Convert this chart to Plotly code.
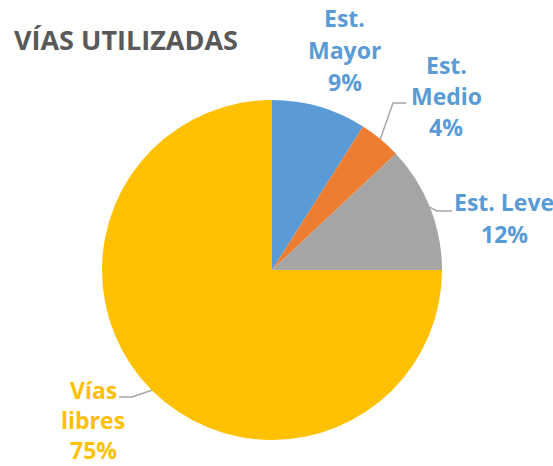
import math
import plotly.graph_objects as go

# Road usage shares (percent)
categories = ["Est. Mayor", "Est. Medio", "Est. Leve", "Vías libres"]
values = [9, 4, 12, 75]
label_lines = [["Est.", "Mayor"], ["Est.", "Medio"], ["Est. Leve"], ["Vías", "libres"]]

colors = ["#5B9BD5", "#ED7D31", "#A5A5A5", "#FFC000"]
text_colors = ["#5B9BD5", "#5B9BD5", "#5B9BD5", "#FFC000"]

W, H = 553, 466
CX, CY, R = 272, 270, 170  # pie centre and radius in pixels

# label block centre (pixels), gap between its lines, and leader-line elbow/end (pixels)
label_pos = [(345, 50), (446, 96), (504, 218), (93, 420)]
line_gaps = [32, 31, 32, 30]
leaders = [None, [(393, 103), (406, 103)], [(437, 211), (452, 211)], [(132, 397), (119, 397)]]


def px(x):
    return x / W


def py(y):
    return 1 - y / H


fig = go.Figure(
    go.Pie(
        labels=categories,
        values=values,
        marker=dict(colors=colors, line=dict(width=0)),
        sort=False,
        direction="clockwise",
        rotation=0,
        textinfo="none",
        showlegend=False,
        domain=dict(x=[px(CX - R), px(CX + R)], y=[py(CY + R), py(CY - R)]),
    )
)

total = sum(values)
cum = 0
annotations = []
shapes = []
for i, (cat, v) in enumerate(zip(categories, values)):
    mid = (cum + v / 2) / total * 2 * math.pi
    cum += v
    pct = round(v / total * 100)
    lines = label_lines[i] + [f"{pct}%"]
    lx, ly = label_pos[i]
    n = len(lines)
    for k, line in enumerate(lines):
        y = ly + (k - (n - 1) / 2) * line_gaps[i]
        annotations.append(
            dict(
                x=px(lx), y=py(y), xref="paper", yref="paper",
                text=line, showarrow=False, xanchor="center", yanchor="middle",
                borderpad=0,
                font=dict(family="Open Sans", size=23, color=text_colors[i], weight="bold"),
            )
        )
    if leaders[i]:
        sx = CX + R * math.sin(mid)
        sy = CY - R * math.cos(mid)
        pts = [(sx, sy)] + leaders[i]
        path = "M " + " L ".join(f"{px(x)},{py(y)}" for x, y in pts)
        shapes.append(
            dict(type="path", path=path, xref="paper", yref="paper",
                 line=dict(color="#A6A6A6", width=1.5))
        )

annotations.append(
    dict(
        x=px(12), y=py(39), xref="paper", yref="paper",
        text="VÍAS UTILIZADAS", showarrow=False, xanchor="left", yanchor="middle",
        font=dict(family="Open Sans", size=27, color="#595959", weight="bold"),
    )
)

fig.update_layout(
    width=W, height=H,
    margin=dict(l=0, r=0, t=0, b=0),
    paper_bgcolor="white",
    plot_bgcolor="white",
    annotations=annotations,
    shapes=shapes,
)

fig.write_html("out.html")
